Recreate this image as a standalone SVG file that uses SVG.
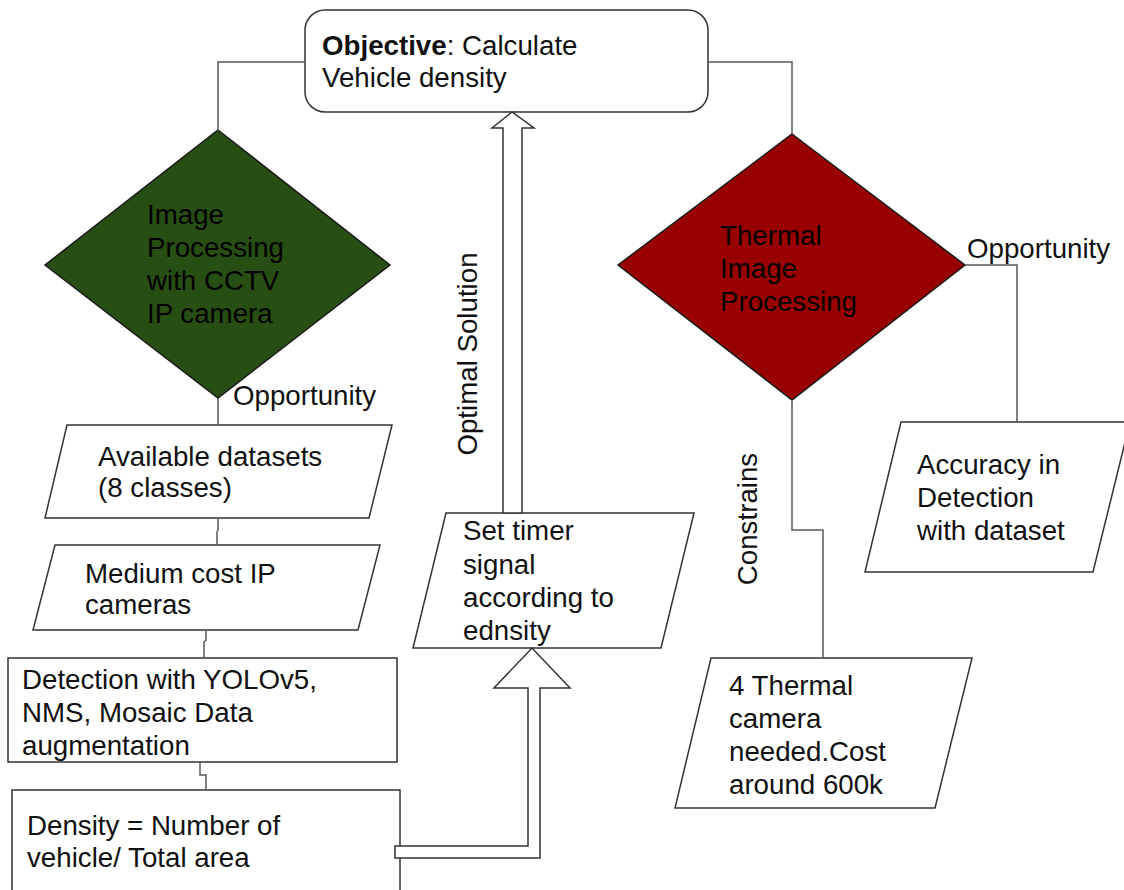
<svg xmlns="http://www.w3.org/2000/svg" width="1124" height="890" viewBox="0 0 1124 890">
  <style>
    .box { fill: #ffffff; stroke: #333333; stroke-width: 1.5; }
    .wire { fill: none; stroke: #595959; stroke-width: 1.5; }
    .blk { fill: #ffffff; stroke: #333333; stroke-width: 1.5; stroke-linejoin: miter; }
    text { font-family: "Liberation Sans", Arial, sans-serif; font-size: 27.7px; fill: #111111; }
    .dark { fill: #000000; }
  </style>
  <rect width="1124" height="890" fill="#ffffff"/>

  <g id="objective">
    <rect class="box" x="305" y="10" width="403" height="102" rx="20"/>
    <text x="322" y="55"><tspan font-weight="bold">Objective</tspan>: Calculate</text>
    <text x="322" y="87">Vehicle density</text>
  </g>

  <g id="image-processing">
    <polygon points="218,130 390,265 218,398 45,265" fill="#274e13" stroke="#1a1a1a" stroke-width="1.5"/>
    <text class="dark" x="147" y="224">Image</text>
    <text class="dark" x="147" y="257">Processing</text>
    <text class="dark" x="147" y="290">with CCTV</text>
    <text class="dark" x="147" y="323">IP camera</text>
  </g>

  <g id="thermal-processing">
    <polygon points="792,134 965,265 792,400 618,265" fill="#990000" stroke="#1a1a1a" stroke-width="1.5"/>
    <text class="dark" x="720" y="245">Thermal</text>
    <text class="dark" x="720" y="278">Image</text>
    <text class="dark" x="720" y="311">Processing</text>
  </g>

  <g id="datasets">
    <polygon class="box" points="67,425 392,425 369,518 45,518"/>
    <text x="98" y="466">Available datasets</text>
    <text x="98" y="497">(8 classes)</text>
  </g>

  <g id="ip-cameras">
    <polygon class="box" points="55,545 380,545 358,630 33,630"/>
    <text x="85" y="583">Medium cost IP</text>
    <text x="85" y="614">cameras</text>
  </g>

  <g id="detection">
    <rect class="box" x="8" y="658" width="389" height="104"/>
    <text x="22" y="689">Detection with YOLOv5,</text>
    <text x="22" y="722">NMS, Mosaic Data</text>
    <text x="22" y="755">augmentation</text>
  </g>

  <g id="density">
    <rect class="box" x="12" y="790" width="388" height="120"/>
    <text x="27" y="835">Density = Number of</text>
    <text x="27" y="867">vehicle/ Total area</text>
  </g>

  <g id="set-timer">
    <polygon class="box" points="446,513 694,513 661,648 413,648"/>
    <text x="463" y="540">Set timer</text>
    <text x="463" y="574">signal</text>
    <text x="463" y="607">according to</text>
    <text x="463" y="640">ednsity</text>
  </g>

  <g id="accuracy">
    <polygon class="box" points="901,422 1130,422 1093,572 865,572"/>
    <text x="917" y="474">Accuracy in</text>
    <text x="917" y="507">Detection</text>
    <text x="917" y="540">with dataset</text>
  </g>

  <g id="thermal-cost">
    <polygon class="box" points="711,658 972,658 935,808 675,808"/>
    <text x="729" y="695">4 Thermal</text>
    <text x="729" y="728">camera</text>
    <text x="729" y="761">needed.Cost</text>
    <text x="729" y="794">around 600k</text>
  </g>

  <!-- connectors, drawn last so the block arrows sit over the box edges -->
  <g id="connectors">
    <polyline class="wire" points="305,62 218,62 218,131"/>
    <polyline class="wire" points="708,62 792,62 792,134"/>
    <line class="wire" x1="218" y1="398" x2="218" y2="425"/>
    <polyline class="wire" points="218,518 218,530 217,532 217,545"/>
    <polyline class="wire" points="206,630 206,640 204,642 204,658"/>
    <polyline class="wire" points="200,762 200,775 206,775 206,790"/>
    <polyline class="wire" points="965,265 1017,265 1017,422"/>
    <polyline class="wire" points="792,400 792,530 823,530 823,658"/>
    <!-- block arrow: Density -> Set timer -->
    <path class="blk" d="M395,846 L528,846 L528,688 L494,688 L532,648 L570,688 L540,688 L540,858 L395,858 Z"/>
    <!-- block arrow: Set timer -> Objective -->
    <path class="blk" d="M503,513 L503,128 L492,128 L512,112 L534,128 L522,128 L522,513 Z"/>
    <text transform="translate(477,354) rotate(-90)" text-anchor="middle">Optimal Solution</text>
    <text transform="translate(757,519) rotate(-90)" text-anchor="middle">Constrains</text>
    <text x="233" y="405">Opportunity</text>
    <text x="967" y="258">Opportunity</text>
  </g>
</svg>
